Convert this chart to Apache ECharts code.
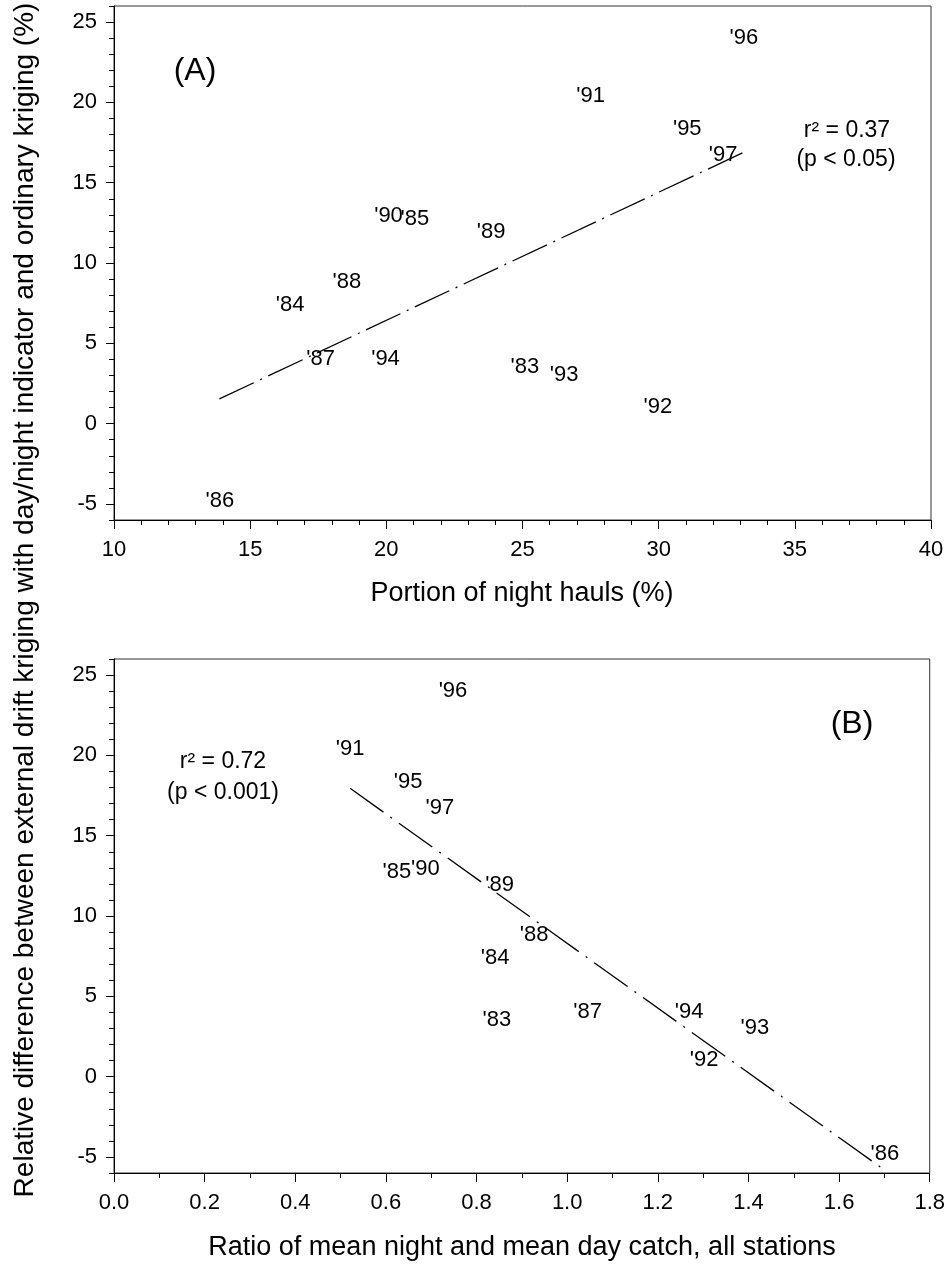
<!DOCTYPE html>
<html>
<head>
<meta charset="utf-8">
<script src="https://cdn.jsdelivr.net/npm/echarts@6/dist/echarts.min.js"></script>
<style>
html,body{margin:0;padding:0;background:#fff;}
#c{width:948px;height:1264px;}
</style>
</head>
<body>
<div id="c"></div>
<script>
// ---- data ----
const years = ["'83","'84","'85","'86","'87","'88","'89","'90","'91","'92","'93","'94","'95","'96","'97"];
const nightPortion = [25.09,16.47,21.05,13.89,17.59,18.55,23.85,20.08,27.50,29.97,26.53,19.97,31.05,33.13,32.37];
const catchRatio = [0.845,0.841,0.624,1.701,1.045,0.927,0.851,0.687,0.521,1.302,1.414,1.269,0.649,0.748,0.719];
const relDiff = [3.5,7.38,12.75,-4.83,4.03,8.8,11.91,12.9,20.4,1.05,3.05,4.03,18.35,24.0,16.75];
const fitAX = [13.87, 33.13];
const fitAY = [1.54, 16.9];
const fitBX = [0.521, 1.701];
const fitBY = [17.95, -5.83];
const yMajorTicks = [-5,0,5,10,15,20,25];
const statsA = ["r² = 0.37", "(p < 0.05)"];
const statsB = ["r² = 0.72", "(p < 0.001)"];

const FONT = "'Liberation Sans', Arial, Helvetica, sans-serif";
const chart = echarts.init(document.getElementById('c'), null, {renderer:'canvas'});

function gridDef(top){ return {left:114, top:top, width:817, height:514, show:true, borderColor:'#333', borderWidth:1, backgroundColor:'transparent'}; }

function xAxisDef(gi, min, max, interval, split, fmt){
  return {type:'value', gridIndex:gi, min:min, max:max, interval:interval,
    axisLine:{show:true, onZero:false, lineStyle:{color:'#000', width:1}},
    axisTick:{show:true, inside:false, length:9, lineStyle:{color:'#000', width:1}},
    minorTick:{show:true, splitNumber:split, length:5, lineStyle:{color:'#000', width:1}},
    axisLabel:{show:true, margin:19, color:'#000', fontSize:22, fontFamily:FONT, formatter:fmt},
    splitLine:{show:false}, minorSplitLine:{show:false}};
}
function yAxisMain(gi){
  return {type:'value', gridIndex:gi, min:-6, max:26,
    axisLine:{show:true, onZero:false, lineStyle:{color:'#000', width:1}},
    axisTick:{show:true, inside:false, length:8, customValues:yMajorTicks, lineStyle:{color:'#000', width:1}},
    axisLabel:{show:true, margin:17, color:'#000', fontSize:22, fontFamily:FONT, customValues:yMajorTicks},
    splitLine:{show:false}};
}
function yAxisMinor(gi){
  return {type:'value', gridIndex:gi, min:-6, max:26, interval:1, position:'left',
    axisLine:{show:false}, axisLabel:{show:false}, splitLine:{show:false},
    axisTick:{show:true, inside:false, length:5, lineStyle:{color:'#000', width:1}}};
}

function labelSeries(xi, yi, xs){
  return {type:'scatter', xAxisIndex:xi, yAxisIndex:yi, symbolSize:0, silent:true,
    itemStyle:{color:'#000', opacity:1},
    data: years.map((n,i)=>({name:n, value:[xs[i], relDiff[i]]})),
    label:{show:true, position:'inside', formatter:p=>p.name, color:'#000', opacity:1,
      textBorderWidth:0, fontSize:22, fontFamily:FONT},
    labelLayout:{hideOverlap:false}, z:5};
}
function fitSeries(xi, yi, xs, ys, dash){
  return {type:'line', xAxisIndex:xi, yAxisIndex:yi, symbol:'none', silent:true,
    data: xs.map((x,i)=>[x, ys[i]]),
    lineStyle:{color:'#000', width:1.3, type:dash}, z:4};
}

function txt(text, x, y, size, extra){
  return Object.assign({type:'text', x:x, y:y, silent:true,
    style:{text:text, fill:'#000', font: size+'px '+FONT, textAlign:'center', textVerticalAlign:'middle'}}, extra||{});
}

chart.setOption({
  animation:false,
  backgroundColor:'#fff',
  textStyle:{fontFamily:FONT},
  grid:[gridDef(6), gridDef(659)],
  xAxis:[
    xAxisDef(0, 10, 40, 5, 5, v=>String(v)),
    xAxisDef(1, 0, 1.8, 0.2, 2, v=>v.toFixed(1))
  ],
  yAxis:[yAxisMain(0), yAxisMinor(0), yAxisMain(1), yAxisMinor(1)],
  series:[
    fitSeries(0, 0, fitAX, fitAY, [38,7,2,7]),
    labelSeries(0, 0, nightPortion),
    fitSeries(1, 2, fitBX, fitBY, [41,8.5,2,8.5]),
    labelSeries(1, 2, catchRatio)
  ],
  graphic:[
    txt('(A)', 195, 71, 32),
    txt(statsA[0], 847, 131, 23),
    txt(statsA[1], 846, 160, 23),
    txt('(B)', 852, 724, 32),
    txt(statsB[0], 223, 762, 23),
    txt(statsB[1], 223, 793, 23),
    txt('Portion of night hauls (%)', 522, 594, 27),
    txt('Ratio of mean night and mean day catch, all stations', 522, 1248, 27),
    txt('Relative difference between external drift kriging with day/night indicator and ordinary kriging (%)', 25, 600, 28, {rotation:Math.PI/2})
  ]
});
</script>
</body>
</html>
